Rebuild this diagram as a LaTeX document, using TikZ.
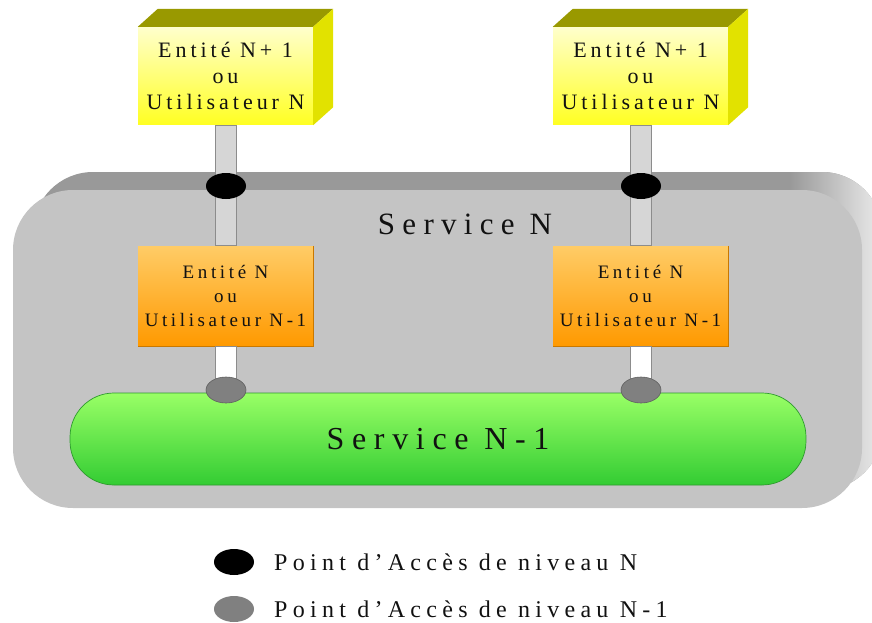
\documentclass[tikz,border=0pt]{standalone}
\usepackage{fontspec}
\setmainfont{Liberation Serif}
\usetikzlibrary{calc,shapes.geometric}
\definecolor{slabtop}{HTML}{999999}
\definecolor{slabside}{HTML}{E3E3E3}
\definecolor{slabfront}{HTML}{C4C4C4}
\definecolor{ytop}{HTML}{FFFFCC}
\definecolor{ybot}{HTML}{FFFF22}
\definecolor{ytopface}{HTML}{999900}
\definecolor{ysideface}{HTML}{E2E200}
\definecolor{otop}{HTML}{FFCC66}
\definecolor{obot}{HTML}{FF9900}
\definecolor{oedge}{HTML}{C97800}
\definecolor{gtop}{HTML}{99FF66}
\definecolor{gbot}{HTML}{33CC33}
\definecolor{gedge}{HTML}{2E9A2E}
\definecolor{polefill}{HTML}{D6D6D6}
\definecolor{poleedge}{HTML}{8C8C8C}
\definecolor{apgray}{HTML}{808080}
\definecolor{apgrayedge}{HTML}{606060}
\definecolor{txt}{HTML}{111111}
\tikzset{
  slab/.style={inner sep=0pt, rounded corners=60pt, minimum width=849pt, minimum height=318pt},
  ybox/.style={inner sep=0pt, minimum width=175pt, minimum height=98pt, top color=ytop, bottom color=ybot,
     align=center, text=txt, font=\fontsize{22}{26}\selectfont\addfontfeature{LetterSpace=18}},
  obox/.style={inner sep=0pt, minimum width=175pt, minimum height=100pt, top color=otop, bottom color=obot,
     align=center, text=txt, font=\fontsize{19}{24}\selectfont\addfontfeature{LetterSpace=19}},
  upole/.style={fill=polefill, draw=poleedge, line width=0.8pt},
  lpole/.style={fill=white, draw=poleedge, line width=0.8pt},
  apN/.style={ellipse, fill=black, inner sep=0pt, minimum width=40pt, minimum height=26pt},
  apNone/.style={ellipse, fill=apgray, draw=apgrayedge, line width=0.6pt, inner sep=0pt, minimum width=40pt, minimum height=26pt},
  gbar/.style={inner sep=0pt, rounded corners=44pt, minimum width=736pt, minimum height=92pt,
     top color=gtop, bottom color=gbot, draw=gedge, line width=0.7pt, text=txt,
     font=\fontsize{32}{36}\selectfont\addfontfeature{LetterSpace=24}},
  svctext/.style={text=txt, inner sep=0pt, font=\fontsize{31}{34}\selectfont\addfontfeature{LetterSpace=23.5}},
  legendtxt/.style={anchor=west, inner sep=0pt, text=txt, font=\fontsize{24}{28}\selectfont\addfontfeature{LetterSpace=22}},
}
\begin{document}
\begin{tikzpicture}[x=1pt,y=-1pt]
\useasboundingbox (0,0) rectangle (872,623);
% Service N slab
\node[slab, fill=slabtop] (svcback) at (457.5,331) {};
\begin{scope}
  \clip[rounded corners=60pt] (33,172) rectangle (882,490);
  \shade[left color=slabtop, right color=slabside] (790,165) rectangle (872,500);
\end{scope}
\node[slab, fill=slabfront] (svc) at (437.5,349) {};
\node[svctext] (svctxt) at (465,224) {Service N};

% orange boxes
\node[obox] (o1) at (225.5,296) {Entité N\\ou\\Utilisateur N-1};
\node[obox] (o2) at (640.5,296) {Entité N\\ou\\Utilisateur N-1};
\draw[oedge, line width=0.8pt] (o1.north east) -- (o1.south east) -- (o1.south west);
\draw[oedge, line width=0.8pt] (o2.north east) -- (o2.south east) -- (o2.south west);

% yellow boxes
\node[ybox] (e1) at (225.5,76) {Entité N+ 1\\ou\\Utilisateur N};
\node[ybox] (e2) at (640.5,76) {Entité N+ 1\\ou\\Utilisateur N};
\foreach \b in {e1,e2}{
  \fill[ytopface] (\b.north west) -- ++(20,-18) -- ($(\b.north east)+(20,-18)$) -- (\b.north east) -- cycle;
  \fill[ysideface] (\b.north east) -- ++(20,-18) -- ($(\b.south east)+(20,-18)$) -- (\b.south east) -- cycle;
}

% access point positions
\coordinate (a1) at (226,186);
\coordinate (a2) at (641,186);
\coordinate (b1) at (226,390);
\coordinate (b2) at (641,390);

% upper poles
\draw[upole] ($(e1.south)+(-10.5,0)$) rectangle ($(o1.north)+(10.5,0)$);
\draw[upole] ($(e2.south)+(-10.5,0)$) rectangle ($(o2.north)+(10.5,0)$);
\node[apN] (p1) at (a1) {};
\node[apN] (p2) at (a2) {};

% lower poles
\draw[lpole] ($(o1.south)+(-10.5,0)$) rectangle ($(b1)+(10.5,0)$);
\draw[lpole] ($(o2.south)+(-10.5,0)$) rectangle ($(b2)+(10.5,0)$);

% Service N-1 bar
\node[gbar] (s1) at (438,439) {Service N-1};
\node[apNone] (q1) at (b1) {};
\node[apNone] (q2) at (b2) {};

% legend
\node[apN] (l1) at (234,562) {};
\node[legendtxt] (t1) at (274,562) {Point d’Accès de niveau N};
\node[apNone, draw=none] (l2) at (234,609) {};
\node[legendtxt] (t2) at (274,609) {Point d’Accès de niveau N-1};
\end{tikzpicture}
\end{document}
